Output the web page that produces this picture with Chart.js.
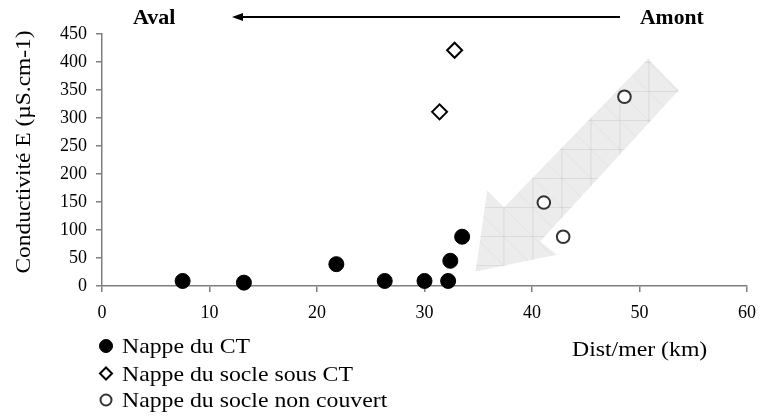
<!DOCTYPE html>
<html>
<head>
<meta charset="utf-8">
<script src="https://cdn.jsdelivr.net/npm/chart.js@4.4.1/dist/chart.umd.min.js"></script>
<style>
  html, body { margin: 0; padding: 0; background: #fff; }
  #wrap { width: 766px; height: 419px; }
</style>
</head>
<body>
<div id="wrap"><canvas id="graphic" width="766" height="419"></canvas></div>
<script>
// Distance to the sea (km) and conductivity (µS/cm) for each aquifer
const ctDist = [7.5, 13.2, 21.8, 26.3, 30.0, 32.2, 32.4, 33.5];
const ctCond = [9, 6, 39, 9, 9, 9, 45, 88];
const socleCtDist = [31.4, 32.8];
const socleCtCond = [311, 421];
const socleLibreDist = [41.1, 42.9, 48.6];
const socleLibreCond = [149, 88, 338];

const seriesNames = ['Nappe du CT', 'Nappe du socle sous CT', 'Nappe du socle non couvert'];
const xTicks = [0, 10, 20, 30, 40, 50, 60];
const yTicks = [0, 50, 100, 150, 200, 250, 300, 350, 400, 450];

// outline of the big grey flow arrow, in axis units
const flowArrowX = [50.8, 53.65, 40.76, 42.3, 34.75, 35.83, 37.38];
const flowArrowY = [406, 349.6, 79.5, 55.7, 25.9, 170, 140.2];

const serif = "'Liberation Serif', 'Times New Roman', serif";
const axisGrey = '#7f7f7f';

const toPoints = (xs, ys) => xs.map((v, i) => ({x: v, y: ys[i]}));

// text a bit wider than the font draws it
function wideText(ctx, text, x, y, sx) {
    ctx.save();
    ctx.translate(x, y);
    ctx.scale(sx, 1);
    ctx.fillText(text, 0, 0);
    ctx.restore();
}

// grey arrow behind the points
const flowArrow = {
    id: 'flowArrow',
    beforeDatasetsDraw(chart) {
        const {ctx, scales: {x, y}} = chart;
        const pts = flowArrowX.map((v, i) => [x.getPixelForValue(v), y.getPixelForValue(flowArrowY[i])]);
        ctx.save();
        ctx.beginPath();
        pts.forEach(([px, py], i) => i ? ctx.lineTo(px, py) : ctx.moveTo(px, py));
        ctx.closePath();
        ctx.fillStyle = '#ececec';
        ctx.fill();
        ctx.clip();
        // faint lattice inside the arrow
        const step = 29;
        const [ax, ay] = pts[6];
        ctx.strokeStyle = 'rgba(200,200,200,0.45)';
        ctx.lineWidth = 1;
        ctx.beginPath();
        for (let k = -12; k <= 12; k++) {
            ctx.moveTo(ax + k * step, 0); ctx.lineTo(ax + k * step, 419);
            ctx.moveTo(0, ay + k * step); ctx.lineTo(766, ay + k * step);
        }
        ctx.stroke();
        ctx.strokeStyle = 'rgba(200,200,200,0.25)';
        ctx.beginPath();
        for (let k = -12; k <= 12; k++) {
            ctx.moveTo(ax + k * step - 300, ay - 300); ctx.lineTo(ax + k * step + 300, ay + 300);
        }
        ctx.stroke();
        ctx.restore();
    }
};

// header arrow, axis titles and legend
const annotations = {
    id: 'annotations',
    afterDraw(chart) {
        const ctx = chart.ctx;
        ctx.save();
        ctx.fillStyle = '#000';

        // Aval <---- Amont
        ctx.font = 'bold 21px ' + serif;
        ctx.textBaseline = 'alphabetic';
        wideText(ctx, 'Aval', 133, 24, 1.05);
        wideText(ctx, 'Amont', 640, 24, 1.03);
        ctx.strokeStyle = '#000';
        ctx.lineWidth = 2;
        ctx.beginPath();
        ctx.moveTo(240, 17);
        ctx.lineTo(620, 17);
        ctx.stroke();
        ctx.beginPath();
        ctx.moveTo(232, 17);
        ctx.lineTo(243, 13);
        ctx.lineTo(243, 21);
        ctx.closePath();
        ctx.fill();

        // axis titles
        ctx.font = '22px ' + serif;
        wideText(ctx, 'Dist/mer (km)', 572, 356, 1.08);
        ctx.save();
        ctx.translate(30, 152);
        ctx.rotate(-Math.PI / 2);
        ctx.scale(1.065, 1);
        ctx.textAlign = 'center';
        ctx.fillText('Conductivité E (µS.cm-1)', 0, 0);
        ctx.restore();

        // legend
        const rows = [353, 380.5, 407];
        chart.data.datasets.forEach((ds, i) => {
            ctx.fillStyle = ds.backgroundColor;
            ctx.strokeStyle = ds.borderColor;
            ctx.lineWidth = ds.borderWidth;
            Chart.helpers.drawPoint(ctx, {
                pointStyle: ds.pointStyle,
                radius: ds.legendRadius,
                borderWidth: ds.borderWidth,
                rotation: 0
            }, 106, rows[i] - 7);
            ctx.fillStyle = '#000';
            wideText(ctx, ds.label, 122, rows[i], 1.08);
        });
        ctx.restore();
    }
};

const chartElement = document.getElementById('graphic');
const newChart = new Chart(chartElement, {
    type: 'scatter',
    data: {
        datasets: [{
            label: seriesNames[0],
            data: toPoints(ctDist, ctCond),
            pointStyle: 'circle',
            pointRadius: 7.5,
            legendRadius: 6.5,
            backgroundColor: '#000',
            borderColor: '#000',
            borderWidth: 1,
            clip: false
        }, {
            label: seriesNames[1],
            data: toPoints(socleCtDist, socleCtCond),
            pointStyle: 'rectRot',
            pointRadius: 7.5,
            legendRadius: 6,
            backgroundColor: '#fff',
            borderColor: '#000',
            borderWidth: 2,
            clip: false
        }, {
            label: seriesNames[2],
            data: toPoints(socleLibreDist, socleLibreCond),
            pointStyle: 'circle',
            pointRadius: 6.3,
            legendRadius: 5.5,
            backgroundColor: '#fff',
            borderColor: '#333',
            borderWidth: 2,
            clip: false
        }]
    },
    options: {
        responsive: false,
        animation: false,
        devicePixelRatio: 1,
        events: [],
        layout: {padding: {top: 34, right: 14, left: 0, bottom: 0}},
        plugins: {
            legend: {display: false},
            tooltip: {enabled: false}
        },
        scales: {
            x: {
                type: 'linear',
                min: 0,
                max: 60,
                afterBuildTicks: (scale) => { scale.ticks = xTicks.map(v => ({value: v})); },
                afterFit: (scale) => { scale.height = 133; },
                ticks: {color: '#000', padding: 10, font: {family: serif, size: 18}},
                grid: {drawOnChartArea: false, drawTicks: true, tickLength: 6, color: axisGrey, lineWidth: 1.5},
                border: {color: axisGrey, width: 1.5}
            },
            y: {
                min: 0,
                max: 450,
                afterBuildTicks: (scale) => { scale.ticks = yTicks.map(v => ({value: v})); },
                afterFit: (scale) => { scale.width = 102; },
                ticks: {color: '#000', padding: 9, font: {family: serif, size: 18}},
                grid: {drawOnChartArea: false, drawTicks: true, tickLength: 6, color: axisGrey, lineWidth: 1.5},
                border: {color: axisGrey, width: 1.5}
            }
        }
    },
    plugins: [flowArrow, annotations]
});
</script>
</body>
</html>
